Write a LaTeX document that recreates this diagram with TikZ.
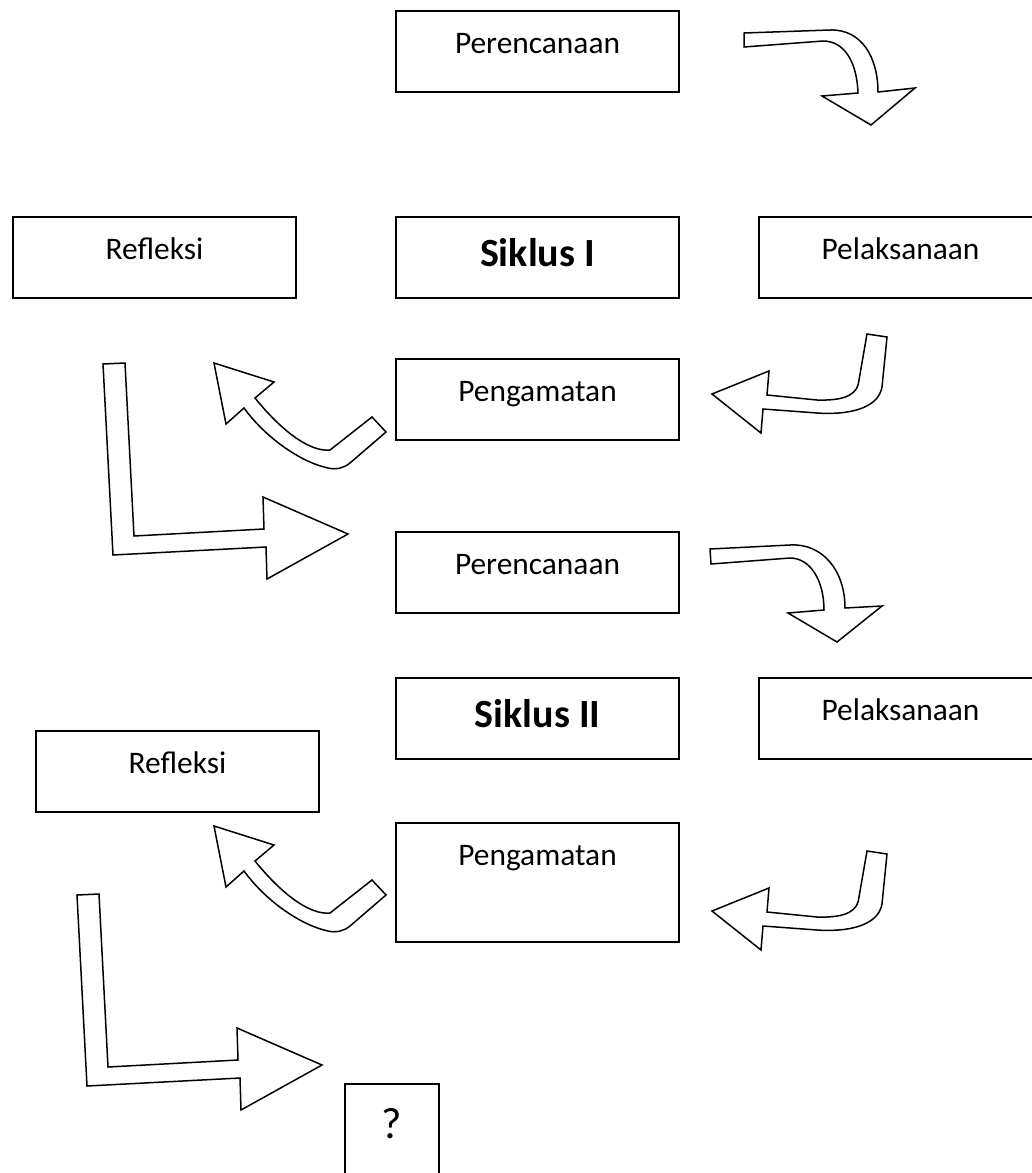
\documentclass[tikz,border=0pt]{standalone}
\usepackage{fontspec}
\setmainfont{Carlito}
\usetikzlibrary{positioning}

\begin{document}
\begin{tikzpicture}[
x=0.5pt, y=-0.5pt,
box/.style={draw=black, line width=1pt, anchor=north west, inner sep=0pt, minimum width=141.5pt, text height=21pt, text depth=19.5pt, font=\fontsize{15.7pt}{19pt}\selectfont},
bigbox/.style={box, text height=24.5pt, text depth=16pt, font=\fontsize{20pt}{24pt}\selectfont\bfseries},
blockarrow/.style={draw=black, line width=0.75pt, fill=white, line join=miter},
]
\useasboundingbox (0,0) rectangle (1032,1173);
\clip (0,0) rectangle (1032,1173);
\node[box] (peren1) at (395,10) {Perencanaan};
\node[box] (refl1) at (12,216) {Refleksi};
\node[bigbox] (siklus1) at (395,216) {Siklus I};
\node[box] (pelak1) at (758,216) {Pelaksanaan};
\node[box] (penga1) at (395,358) {Pengamatan};
\node[box] (peren2) at (395,531) {Perencanaan};
\node[bigbox] (siklus2) at (395,677) {Siklus II};
\node[box] (pelak2) at (758,677) {Pelaksanaan};
\node[box] (refl2) at (35,730) {Refleksi};
\node[box, text depth=38.5pt] (penga2) at (395,822) {Pengamatan};
\node[box, minimum width=47pt, text height=27pt, text depth=30pt, font=\fontsize{22pt}{26pt}\selectfont] (tanya) at (344,1083) {?};
\draw[blockarrow] (744,33) -- (830,30) .. controls (862,29) and (878,58) .. (878,92) -- (915,88) -- (871,125) -- (822,96) -- (858,93) .. controls (857,63) and (845,41) .. (823,41) -- (744,47) -- cycle;
\draw[blockarrow] (710,549) -- (790,545) .. controls (822,543) and (845,570) .. (845,608) -- (882,606) -- (837,642) -- (788,613) -- (824,610) .. controls (824,580) and (810,558) .. (790,558) -- (711,564) -- cycle;
\draw[blockarrow] (867,334) -- (887,337) -- (882,387) .. controls (878,410) and (845,415) .. (817,413) -- (763,409) -- (761,433) -- (712,394) -- (769,371) -- (767,395) -- (817,400) .. controls (848,401) and (858,393) .. (859,380) -- cycle;
\draw[blockarrow, shift={(0,517)}] (867,334) -- (887,337) -- (882,387) .. controls (878,410) and (845,415) .. (817,413) -- (763,409) -- (761,433) -- (712,394) -- (769,371) -- (767,395) -- (817,400) .. controls (848,401) and (858,393) .. (859,380) -- cycle;
\draw[blockarrow] (214,363) -- (274,382) -- (255,398) .. controls (285,435) and (312,452) .. (330,450) -- (372,417) -- (386,432) -- (350,463) .. controls (344,468) and (336,470) .. (328,468) .. controls (300,462) and (265,437) .. (244,408) -- (226,424) -- cycle;
\draw[blockarrow, shift={(0,463)}] (214,363) -- (274,382) -- (255,398) .. controls (285,435) and (312,452) .. (330,450) -- (372,417) -- (386,432) -- (350,463) .. controls (344,468) and (336,470) .. (328,468) .. controls (300,462) and (265,437) .. (244,408) -- (226,424) -- cycle;
\draw[blockarrow] (103,364) -- (125,363) -- (134,536) -- (264,529) -- (263,497) -- (348,534) -- (267,579) -- (266,547) -- (113,555) -- cycle;
\draw[blockarrow, shift={(-26,531)}] (103,364) -- (125,363) -- (134,536) -- (264,529) -- (263,497) -- (348,534) -- (267,579) -- (266,547) -- (113,555) -- cycle;
\end{tikzpicture}
\end{document}
